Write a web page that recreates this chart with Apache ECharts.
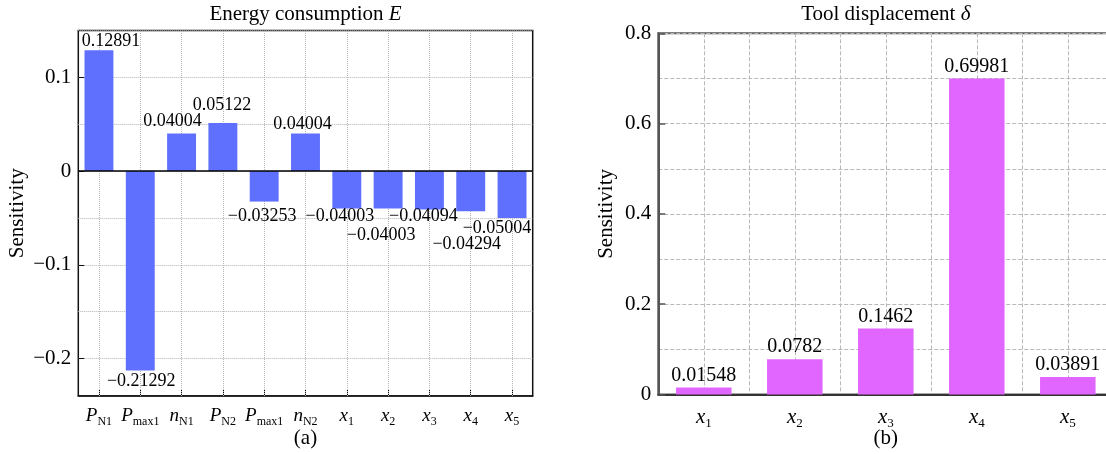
<!DOCTYPE html>
<html>
<head>
<meta charset="utf-8">
<script src="https://cdn.jsdelivr.net/npm/echarts@6/dist/echarts.min.js"></script>
<style>
  html, body { margin: 0; padding: 0; background: #fff; }
  #chart { width: 1106px; height: 454px; }
</style>
</head>
<body>
<div id="chart"></div>
<script>
// ---------------- data ----------------
const catsE = ['P_N1', 'P_max1', 'n_N1', 'P_N2', 'P_max1', 'n_N2', 'x_1', 'x_2', 'x_3', 'x_4', 'x_5'];
const valsE = [0.12891, -0.21292, 0.04004, 0.05122, -0.03253, 0.04004, -0.04003, -0.04003, -0.04094, -0.04294, -0.05004];
const catsD = ['x_1', 'x_2', 'x_3', 'x_4', 'x_5'];
const valsD = [0.01548, 0.0782, 0.1462, 0.69981, 0.03891];
const tickLabelsE = [-0.2, -0.1, 0, 0.1];
const tickLabelsD = [0, 0.2, 0.4, 0.6, 0.8];
const titleE = 'Energy consumption {i|E}';
const titleD = 'Tool displacement {i|δ}';
const yName = 'Sensitivity';
const captions = ['(a)', '(b)'];

// ---------------- style / layout ----------------
const FONT = "'Liberation Serif', 'Times New Roman', serif";
const labelShiftE = [[12, 0], [1, 2], [-9, -3], [-1, -9], [-2, 6], [-3, 0], [-7, -1], [-7, 18], [-6, -2], [-4, 24], [-15, 1]];
const GRID_E = { color: '#b4b4b4', type: 'dotted', width: 1 };
const GRID_D = { color: '#b8b8b8', type: [4, 2], width: 1 };

function fmt(v) { return v < 0 ? '\u2212' + String(-v) : String(v); }
function catLabel(v) { const p = v.split('_'); return '{i|' + p[0] + '}{s|' + p[1] + '}'; }
function richCat(main, sub, lh) {
  return {
    i: { fontFamily: FONT, fontStyle: 'italic', fontSize: main, lineHeight: lh, color: '#000' },
    s: { fontFamily: FONT, fontSize: sub, lineHeight: sub, verticalAlign: 'bottom', color: '#000' }
  };
}

const GL = { left: 78.3, right: 1106 - 532.7, top: 30.5, bottom: 454 - 396 };
const GR = { left: 658.3, right: -7.3, top: 33.3, bottom: 454 - 394.5 };
const cxE = GL.left + (1106 - GL.right - GL.left) / 2;
const cxD = GR.left + (1106 - GR.right - GR.left) / 2;

const chart = echarts.init(document.getElementById('chart'), null, { renderer: 'canvas' });

const option = {
  animation: false,
  backgroundColor: '#fff',
  textStyle: { fontFamily: FONT },
  title: [
    { text: titleE, left: cxE, top: 4, textAlign: 'center', padding: 0,
      textStyle: { fontFamily: FONT, fontSize: 21, fontWeight: 'normal', color: '#000',
        rich: { i: { fontFamily: FONT, fontSize: 21, fontStyle: 'italic', color: '#000' } } } },
    { text: titleD, left: cxD, top: 4, textAlign: 'center', padding: 0,
      textStyle: { fontFamily: FONT, fontSize: 21, fontWeight: 'normal', color: '#000',
        rich: { i: { fontFamily: FONT, fontSize: 21, fontStyle: 'italic', color: '#000' } } } },
    { text: captions[0], left: cxE, top: 428, textAlign: 'center', padding: 0,
      textStyle: { fontFamily: FONT, fontSize: 21, fontWeight: 'normal', color: '#000' } },
    { text: captions[1], left: cxD, top: 428, textAlign: 'center', padding: 0,
      textStyle: { fontFamily: FONT, fontSize: 21, fontWeight: 'normal', color: '#000' } }
  ],
  grid: [
    Object.assign({ show: true, borderColor: '#111', borderWidth: 1.5, containLabel: false, outerBoundsMode: 'none' }, GL),
    Object.assign({ show: true, borderColor: '#555', borderWidth: 2, containLabel: false, outerBoundsMode: 'none' }, GR)
  ],
  xAxis: [
    { type: 'category', gridIndex: 0, data: catsE, boundaryGap: true, position: 'bottom',
      axisLine: { onZero: false, lineStyle: { color: '#111', width: 1.5 } },
      axisTick: { show: true, inside: true, alignWithLabel: true, length: 6, lineStyle: { color: '#111', width: 1 } },
      axisLabel: { margin: 8, formatter: catLabel, interval: 0, rich: richCat(19, 12, 24) },
      splitLine: { show: false } },
    { type: 'category', gridIndex: 1, data: catsD, boundaryGap: true, position: 'bottom',
      axisLine: { onZero: false, lineStyle: { color: '#333', width: 2 } },
      axisTick: { show: false },
      axisLabel: { margin: 10, formatter: catLabel, interval: 0, rich: richCat(21, 13, 26) },
      splitLine: { show: false } },
    { type: 'value', gridIndex: 1, min: 0, max: catsD.length, interval: 0.5, position: 'bottom',
      axisLine: { show: false, onZero: false }, axisTick: { show: false }, axisLabel: { show: false },
      splitLine: { show: true, lineStyle: GRID_D } }
  ],
  yAxis: [
    { type: 'value', gridIndex: 0, min: -0.24, max: 0.15, splitNumber: 8, minInterval: 0.05, maxInterval: 0.05, position: 'left',
      axisLine: { show: false }, axisTick: { show: false }, axisLabel: { show: false },
      splitLine: { show: true, lineStyle: GRID_E } },
    { type: 'value', gridIndex: 0, min: -0.24, max: 0.15, position: 'left', offset: 0,
      axisLine: { show: false },
      axisTick: { show: true, inside: true, length: 6, customValues: tickLabelsE, lineStyle: { color: '#111' } },
      axisLabel: { customValues: tickLabelsE, margin: 7, formatter: v => v === 0 ? '0' : fmt(v),
        fontFamily: FONT, fontSize: 21, color: '#000' },
      splitLine: { show: false },
      name: yName, nameLocation: 'middle', nameGap: 50,
      nameTextStyle: { fontFamily: FONT, fontSize: 21, color: '#000' } },
    { type: 'value', gridIndex: 1, min: 0, max: 0.8, interval: 0.1, position: 'left',
      axisLine: { show: false }, axisTick: { show: false }, axisLabel: { show: false },
      splitLine: { show: true, lineStyle: GRID_D } },
    { type: 'value', gridIndex: 1, min: 0, max: 0.8, interval: 0.2, position: 'left', offset: 0,
      axisLine: { show: true, onZero: false, lineStyle: { color: '#555', width: 2 } },
      axisTick: { show: true, inside: true, length: 7, lineStyle: { color: '#555', width: 1.5 } },
      axisLabel: { margin: 7, formatter: v => v === 0 ? '0' : String(Math.round(v * 10) / 10),
        fontFamily: FONT, fontSize: 21, color: '#000' },
      splitLine: { show: false },
      name: yName, nameLocation: 'middle', nameGap: 41,
      nameTextStyle: { fontFamily: FONT, fontSize: 21, color: '#000' } }
  ],
  series: [
    { type: 'line', xAxisIndex: 0, yAxisIndex: 0, data: [], z: 1, silent: true,
      markLine: { silent: true, symbol: 'none', z: 1, animation: false,
        label: { show: false },
        lineStyle: GRID_E,
        data: catsE.map((c, i) => ({ xAxis: i })) } },
    { type: 'bar', xAxisIndex: 0, yAxisIndex: 0, barCategoryGap: '30%', z: 2,
      itemStyle: { color: '#5F70FF' },
      label: { show: true, distance: 0, fontFamily: FONT, fontSize: 18, lineHeight: 18, color: '#000',
        formatter: p => fmt(p.value) },
      data: valsE.map((v, i) => ({ value: v, label: { position: v >= 0 ? 'top' : 'bottom', offset: labelShiftE[i] } })),
      markLine: { silent: true, symbol: 'none', z: 3,
        label: { show: false },
        lineStyle: { color: '#000', type: 'solid', width: 1.5 },
        data: [{ yAxis: 0 }] } },
    { type: 'bar', xAxisIndex: 1, yAxisIndex: 2, barCategoryGap: '39%',
      itemStyle: { color: '#E066FF' },
      label: { show: true, position: 'top', distance: 2, fontFamily: FONT, fontSize: 20, lineHeight: 20, color: '#000',
        formatter: p => fmt(p.value) },
      data: valsD }
  ]
};
chart.setOption(option);
</script>
</body>
</html>
